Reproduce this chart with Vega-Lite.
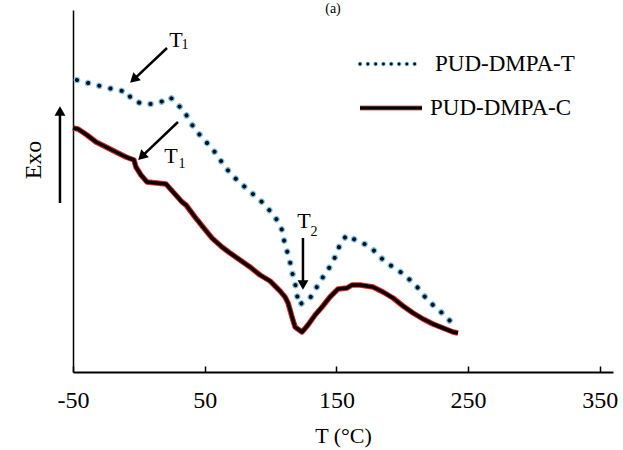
{
  "$schema": "https://vega.github.io/schema/vega-lite/v6.json",
  "width": 540,
  "height": 362,
  "autosize": {"type": "none"},
  "padding": {"left": 73, "top": 10, "right": 10, "bottom": 78},
  "background": "white",
  "config": {
    "view": {"stroke": null},
    "font": "Liberation Serif",
    "text": {"font": "Liberation Serif", "color": "black"}
  },
  "datasets": {
    "curves": [
      {"s": "T", "t": -47.0, "h": 292}, {"s": "T", "t": -44.7, "h": 291}, {"s": "T", "t": -35.6, "h": 288}, {"s": "T", "t": -26.5, "h": 285},
      {"s": "T", "t": -16.6, "h": 282}, {"s": "T", "t": -8.2, "h": 280}, {"s": "T", "t": -6.0, "h": 273}, {"s": "T", "t": 0.9, "h": 269},
      {"s": "T", "t": 9.2, "h": 268}, {"s": "T", "t": 16.8, "h": 270}, {"s": "T", "t": 23.7, "h": 275}, {"s": "T", "t": 29.0, "h": 268},
      {"s": "T", "t": 35.0, "h": 260}, {"s": "T", "t": 38.1, "h": 251}, {"s": "T", "t": 43.4, "h": 242}, {"s": "T", "t": 48.7, "h": 233},
      {"s": "T", "t": 54.8, "h": 225}, {"s": "T", "t": 59.3, "h": 217}, {"s": "T", "t": 63.9, "h": 208}, {"s": "T", "t": 69.2, "h": 199},
      {"s": "T", "t": 75.3, "h": 191}, {"s": "T", "t": 81.4, "h": 184}, {"s": "T", "t": 87.4, "h": 177}, {"s": "T", "t": 93.5, "h": 170},
      {"s": "T", "t": 99.6, "h": 161}, {"s": "T", "t": 104.9, "h": 152}, {"s": "T", "t": 108.7, "h": 142}, {"s": "T", "t": 110.2, "h": 132},
      {"s": "T", "t": 112.5, "h": 121}, {"s": "T", "t": 114.8, "h": 110}, {"s": "T", "t": 116.3, "h": 100}, {"s": "T", "t": 118.6, "h": 89},
      {"s": "T", "t": 120.1, "h": 77}, {"s": "T", "t": 121.6, "h": 67}, {"s": "T", "t": 130.0, "h": 74}, {"s": "T", "t": 133.8, "h": 82},
      {"s": "T", "t": 138.3, "h": 92}, {"s": "T", "t": 142.9, "h": 101}, {"s": "T", "t": 147.4, "h": 110}, {"s": "T", "t": 150.5, "h": 120},
      {"s": "T", "t": 153.5, "h": 130}, {"s": "T", "t": 158.1, "h": 137}, {"s": "T", "t": 165.6, "h": 131}, {"s": "T", "t": 173.2, "h": 127},
      {"s": "T", "t": 180.8, "h": 119}, {"s": "T", "t": 186.1, "h": 111}, {"s": "T", "t": 193.0, "h": 105}, {"s": "T", "t": 199.8, "h": 99},
      {"s": "T", "t": 205.9, "h": 92}, {"s": "T", "t": 212.0, "h": 84}, {"s": "T", "t": 217.3, "h": 75}, {"s": "T", "t": 223.3, "h": 67},
      {"s": "T", "t": 229.4, "h": 60}, {"s": "T", "t": 234.7, "h": 53}, {"s": "T", "t": 241.6, "h": 45},
      {"s": "C", "t": -50.0, "h": 244}, {"s": "C", "t": -46.2, "h": 243}, {"s": "C", "t": -39.4, "h": 237}, {"s": "C", "t": -32.5, "h": 230},
      {"s": "C", "t": -24.9, "h": 225}, {"s": "C", "t": -17.4, "h": 220}, {"s": "C", "t": -9.8, "h": 215}, {"s": "C", "t": -3.7, "h": 212},
      {"s": "C", "t": -2.2, "h": 205}, {"s": "C", "t": 1.6, "h": 197}, {"s": "C", "t": 6.2, "h": 190}, {"s": "C", "t": 13.5, "h": 189},
      {"s": "C", "t": 20.6, "h": 188}, {"s": "C", "t": 26.7, "h": 179}, {"s": "C", "t": 32.8, "h": 170}, {"s": "C", "t": 35.8, "h": 167},
      {"s": "C", "t": 42.6, "h": 155}, {"s": "C", "t": 48.7, "h": 145}, {"s": "C", "t": 55.5, "h": 134}, {"s": "C", "t": 63.1, "h": 125},
      {"s": "C", "t": 69.2, "h": 119}, {"s": "C", "t": 76.8, "h": 112}, {"s": "C", "t": 84.4, "h": 105}, {"s": "C", "t": 92.0, "h": 97},
      {"s": "C", "t": 99.6, "h": 91}, {"s": "C", "t": 107.2, "h": 81}, {"s": "C", "t": 111.0, "h": 75}, {"s": "C", "t": 113.3, "h": 69},
      {"s": "C", "t": 116.3, "h": 55}, {"s": "C", "t": 118.6, "h": 45}, {"s": "C", "t": 123.9, "h": 40}, {"s": "C", "t": 128.4, "h": 47},
      {"s": "C", "t": 133.8, "h": 57}, {"s": "C", "t": 139.1, "h": 65}, {"s": "C", "t": 145.1, "h": 75}, {"s": "C", "t": 151.2, "h": 83},
      {"s": "C", "t": 158.1, "h": 84}, {"s": "C", "t": 161.8, "h": 87}, {"s": "C", "t": 167.9, "h": 87}, {"s": "C", "t": 177.8, "h": 85},
      {"s": "C", "t": 185.4, "h": 80}, {"s": "C", "t": 193.0, "h": 74}, {"s": "C", "t": 200.6, "h": 66}, {"s": "C", "t": 208.2, "h": 59},
      {"s": "C", "t": 215.8, "h": 53}, {"s": "C", "t": 223.3, "h": 48}, {"s": "C", "t": 230.9, "h": 44}, {"s": "C", "t": 238.5, "h": 40},
      {"s": "C", "t": 242.3, "h": 39}
    ],
    "arrows": [
      {"x": 21.4, "y": 324, "x2": -4.0, "y2": 292.4, "ang": 227},
      {"x": 29.7, "y": 250, "x2": 2.1, "y2": 215.4, "ang": 226},
      {"x": 124.6, "y": 134, "x2": 124.6, "y2": 87, "ang": 180},
      {"x": -59.9, "y": 169, "x2": -59.9, "y2": 261, "ang": 0}
    ],
    "legendDots": [{"x": 167.9, "y": 308, "x2": 215.0, "y2": 308}],
    "legendLine": [{"x": 167.9, "y": 264, "x2": 215.0, "y2": 264}],
    "tText": [
      {"x": 28.2, "y": 332, "label": "T"},
      {"x": 24.4, "y": 216, "label": "T"},
      {"x": 125.4, "y": 151, "label": "T"}
    ],
    "legendText": [
      {"x": 224.9, "y": 308, "label": "PUD-DMPA-T"},
      {"x": 221.1, "y": 264, "label": "PUD-DMPA-C"}
    ],
    "panel": [{"x": 147.4, "y": 363, "label": "(a)"}],
    "subText": [
      {"x": 35.0, "y": 327, "label": "1"},
      {"x": 32.8, "y": 208, "label": "1"},
      {"x": 133.0, "y": 140, "label": "2"}
    ],
    "exo": [{"x": -79.6, "y": 212, "label": "Exo"}]
  },
  "layer": [
    {
      "data": {"name": "curves"},
      "transform": [{"filter": "datum.s === 'T'"}],
      "mark": {"type": "line", "color": "#7cc4e2", "strokeWidth": 6.5, "strokeDash": [0.1, 11.4], "strokeCap": "round"},
      "encoding": {
        "x": {"field": "t", "type": "quantitative", "scale": {"domain": [-50, 360], "nice": false, "zero": false},
          "axis": {"values": [-50, 50, 150, 250, 350], "labelExpr": "toString(datum.value)", "grid": false, "domainColor": "black", "domainWidth": 2, "tickColor": "black", "tickWidth": 1.5, "tickSize": -6, "labelPadding": 22, "labelFontSize": 24, "labelFont": "Liberation Serif", "labelColor": "black", "title": "T (°C)", "titleFont": "Liberation Serif", "titleFontSize": 22, "titleFontWeight": "normal", "titleColor": "black", "titlePadding": 13, "labelFlush": false}},
        "y": {"field": "h", "type": "quantitative", "scale": {"domain": [0, 362], "nice": false, "zero": false},
          "axis": {"domainColor": "black", "domainWidth": 1.5, "ticks": false, "labels": false, "grid": false, "title": null}},
        "order": {"field": "t", "type": "quantitative"}
      }
    },
    {
      "data": {"name": "curves"},
      "transform": [{"filter": "datum.s === 'T'"}],
      "mark": {"type": "line", "color": "#0b0b1e", "strokeWidth": 4, "strokeDash": [0.1, 11.4], "strokeCap": "round"},
      "encoding": {"x": {"field": "t", "type": "quantitative"}, "y": {"field": "h", "type": "quantitative"}, "order": {"field": "t", "type": "quantitative"}}
    },
    {
      "data": {"name": "curves"},
      "transform": [{"filter": "datum.s === 'C'"}],
      "mark": {"type": "line", "color": "#e2231c", "strokeWidth": 5.5, "strokeJoin": "round"},
      "encoding": {"x": {"field": "t", "type": "quantitative"}, "y": {"field": "h", "type": "quantitative"}, "order": {"field": "t", "type": "quantitative"}}
    },
    {
      "data": {"name": "curves"},
      "transform": [{"filter": "datum.s === 'C'"}],
      "mark": {"type": "line", "color": "black", "strokeWidth": 3.5, "strokeJoin": "round"},
      "encoding": {"x": {"field": "t", "type": "quantitative"}, "y": {"field": "h", "type": "quantitative"}, "order": {"field": "t", "type": "quantitative"}}
    },
    {
      "data": {"name": "legendDots"},
      "mark": {"type": "rule", "color": "#7cc4e2", "strokeWidth": 4.5, "strokeDash": [0.1, 7.7], "strokeCap": "round"},
      "encoding": {"x": {"field": "x", "type": "quantitative"}, "y": {"field": "y", "type": "quantitative"}, "x2": {"field": "x2"}, "y2": {"field": "y2"}}
    },
    {
      "data": {"name": "legendDots"},
      "mark": {"type": "rule", "color": "#0b0b1e", "strokeWidth": 2.8, "strokeDash": [0.1, 7.7], "strokeCap": "round"},
      "encoding": {"x": {"field": "x", "type": "quantitative"}, "y": {"field": "y", "type": "quantitative"}, "x2": {"field": "x2"}, "y2": {"field": "y2"}}
    },
    {
      "data": {"name": "legendLine"},
      "mark": {"type": "rule", "color": "#f0b0a8", "strokeWidth": 6},
      "encoding": {"x": {"field": "x", "type": "quantitative"}, "y": {"field": "y", "type": "quantitative"}, "x2": {"field": "x2"}, "y2": {"field": "y2"}}
    },
    {
      "data": {"name": "legendLine"},
      "mark": {"type": "rule", "color": "black", "strokeWidth": 3.5},
      "encoding": {"x": {"field": "x", "type": "quantitative"}, "y": {"field": "y", "type": "quantitative"}, "x2": {"field": "x2"}, "y2": {"field": "y2"}}
    },
    {
      "data": {"name": "arrows"},
      "mark": {"type": "rule", "color": "black", "strokeWidth": 2.5},
      "encoding": {"x": {"field": "x", "type": "quantitative"}, "y": {"field": "y", "type": "quantitative"}, "x2": {"field": "x2"}, "y2": {"field": "y2"}}
    },
    {
      "data": {"name": "arrows"},
      "mark": {"type": "point", "shape": "triangle-up", "filled": true, "color": "black", "size": 120, "opacity": 1},
      "encoding": {"x": {"field": "x2", "type": "quantitative"}, "y": {"field": "y2", "type": "quantitative"}, "angle": {"field": "ang", "type": "quantitative", "scale": null}}
    },
    {
      "data": {"name": "tText"},
      "mark": {"type": "text", "baseline": "middle", "align": "center", "fontSize": 22, "font": "Liberation Serif"},
      "encoding": {"x": {"field": "x", "type": "quantitative"}, "y": {"field": "y", "type": "quantitative"}, "text": {"field": "label"}}
    },
    {
      "data": {"name": "legendText"},
      "mark": {"type": "text", "baseline": "middle", "align": "left", "fontSize": 23, "font": "Liberation Serif"},
      "encoding": {"x": {"field": "x", "type": "quantitative"}, "y": {"field": "y", "type": "quantitative"}, "text": {"field": "label"}}
    },
    {
      "data": {"name": "panel"},
      "mark": {"type": "text", "baseline": "middle", "align": "center", "fontSize": 14, "font": "Liberation Serif"},
      "encoding": {"x": {"field": "x", "type": "quantitative"}, "y": {"field": "y", "type": "quantitative"}, "text": {"field": "label"}}
    },
    {
      "data": {"name": "subText"},
      "mark": {"type": "text", "baseline": "middle", "align": "center", "fontSize": 14, "font": "Liberation Serif"},
      "encoding": {"x": {"field": "x", "type": "quantitative"}, "y": {"field": "y", "type": "quantitative"}, "text": {"field": "label"}}
    },
    {
      "data": {"name": "exo"},
      "mark": {"type": "text", "baseline": "middle", "align": "center", "fontSize": 24, "angle": 270, "font": "Liberation Serif"},
      "encoding": {"x": {"field": "x", "type": "quantitative"}, "y": {"field": "y", "type": "quantitative"}, "text": {"field": "label"}}
    }
  ]
}
